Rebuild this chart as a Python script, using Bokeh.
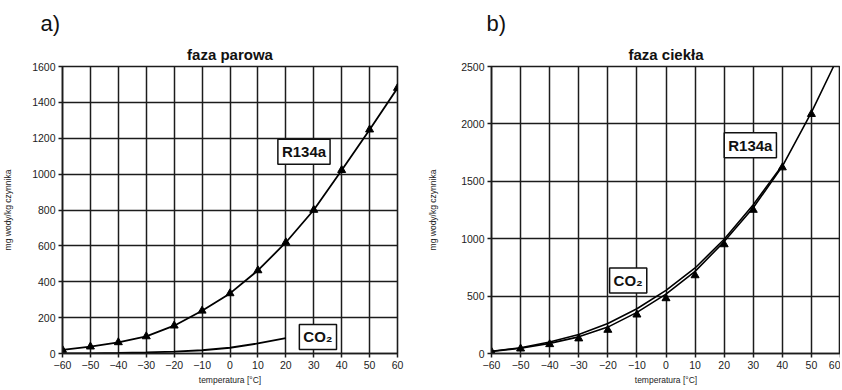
from bokeh.plotting import figure
from bokeh.models import Title, Label, FixedTicker
from bokeh.layouts import row
from bokeh.embed import file_html
from bokeh.resources import INLINE

# ---- data ----
x_ticks = [-60, -50, -40, -30, -20, -10, 0, 10, 20, 30, 40, 50, 60]

# a) vapour phase
vap_r134a_t = [-60, -50, -40, -30, -20, -10, 0, 10, 20, 30, 40, 50, 60]
vap_r134a_v = [20, 38, 62, 95, 155, 238, 335, 463, 619, 800, 1022, 1248, 1480]
vap_co2_t = [-60, -50, -40, -30, -20, -10, 0, 10, 20]
vap_co2_v = [0, 1, 3, 6, 10, 18, 32, 56, 86]
vap_y_ticks = [0, 200, 400, 600, 800, 1000, 1200, 1400, 1600]

# b) liquid phase
liq_r134a_t = [-60, -50, -40, -30, -20, -10, 0, 10, 20, 30, 40, 50]
liq_r134a_v = [15, 42, 80, 130, 205, 338, 480, 680, 950, 1250, 1620, 2085]
liq_r134a_line_t = [-60, -50, -40, -30, -20, -10, 0, 10, 20, 30, 40, 50, 57.6]
liq_r134a_line_v = [18, 46, 88, 145, 230, 358, 517, 715, 975, 1270, 1630, 2100, 2500]
liq_co2_t = [-60, -50, -40, -30, -20, -10, 0, 10, 20, 30, 40]
liq_co2_v = [20, 50, 100, 165, 262, 390, 550, 745, 995, 1295, 1640]
liq_y_ticks = [0, 500, 1000, 1500, 2000, 2500]

FONT = "Liberation Sans"
GRID = "#1c1c1c"
H = 387


def base(title, letter, width, ymax, yticks, left, right, label_standoff, letter_offset):
    p = figure(width=width, height=H, x_range=(-60, 60), y_range=(0, ymax),
               output_backend="svg", toolbar_location=None,
               min_border_left=left, min_border_right=right,
               min_border_top=66, min_border_bottom=20,
               title=letter)
    p.title.text_font = FONT
    p.title.text_font_size = "22px"
    p.title.text_font_style = "normal"
    p.title.align = "left"
    p.title.offset = letter_offset
    p.title.text_color = "#111111"
    p.add_layout(Title(text=title, text_font=FONT, text_font_size="15px",
                       text_font_style="bold", align="center",
                       text_color="#111111", standoff=7), "above")
    p.background_fill_color = "white"
    p.border_fill_color = "white"
    p.outline_line_color = GRID
    p.outline_line_width = 1.6

    p.xaxis.ticker = FixedTicker(ticks=x_ticks)
    p.yaxis.ticker = FixedTicker(ticks=yticks)
    p.xgrid.ticker = FixedTicker(ticks=x_ticks)
    p.ygrid.ticker = FixedTicker(ticks=yticks)
    for g in (p.xgrid, p.ygrid):
        g.grid_line_color = GRID
        g.grid_line_width = 1.5
        g.grid_line_alpha = 1.0
    for ax in (p.xaxis, p.yaxis):
        ax.axis_line_color = GRID
        ax.axis_line_width = 1.5
        ax.major_tick_line_color = GRID
        ax.major_tick_line_width = 1.5
        ax.major_tick_out = 4
        ax.major_tick_in = 0
        ax.minor_tick_line_color = None
        ax.major_label_text_font = FONT
        ax.major_label_text_font_size = "10.5px"
        ax.major_label_text_color = "#222222"
        ax.axis_label_text_font = FONT
        ax.axis_label_text_font_size = "8.5px"
        ax.axis_label_text_font_style = "normal"
        ax.axis_label_text_color = "#222222"
    p.xaxis.major_tick_out = 4
    p.xaxis.major_label_standoff = 3
    p.xaxis.axis_label_standoff = 3
    p.xaxis.axis_label = "temperatura [°C]"
    p.yaxis.axis_label = "mg wody/kg czynnika"
    p.yaxis.major_label_standoff = 3
    p.yaxis.axis_label_standoff = label_standoff
    return p


def box(p, x, y, text):
    p.add_layout(Label(x=x, y=y, text=text, text_align="center", text_baseline="middle",
                       text_font=FONT, text_font_size="15px", text_font_style="bold",
                       text_color="#111111",
                       background_fill_color="white", background_fill_alpha=1.0,
                       border_line_color="#111111", border_line_width=1.5, padding=4))


# ---- a) ----
pa = base("faza parowa", "a)", 418, 1600, vap_y_ticks, 58, 21, 16, -22)
pa.line(vap_r134a_t, vap_r134a_v, line_color="black", line_width=1.8)
pa.scatter(vap_r134a_t, vap_r134a_v, marker="triangle", size=8,
           fill_color="black", line_color="black")
pa.line(vap_co2_t, vap_co2_v, line_color="black", line_width=1.8)
box(pa, 26.5, 1125, "R134a")
box(pa, 31.5, 92, "CO₂")

# ---- b) ----
pb = base("faza ciekła", "b)", 422, 2500, liq_y_ticks, 73, 0, 20, -5)
pb.line(liq_r134a_line_t, liq_r134a_line_v, line_color="black", line_width=1.6)
pb.scatter(liq_r134a_t, liq_r134a_v, marker="triangle", size=8,
           fill_color="black", line_color="black")
pb.line(liq_co2_t, liq_co2_v, line_color="black", line_width=1.6)
box(pb, 29, 1815, "R134a")
box(pb, -13, 636, "CO₂")

layout = row(pa, pb)
open("out.html", "w").write(file_html(layout, INLINE))
